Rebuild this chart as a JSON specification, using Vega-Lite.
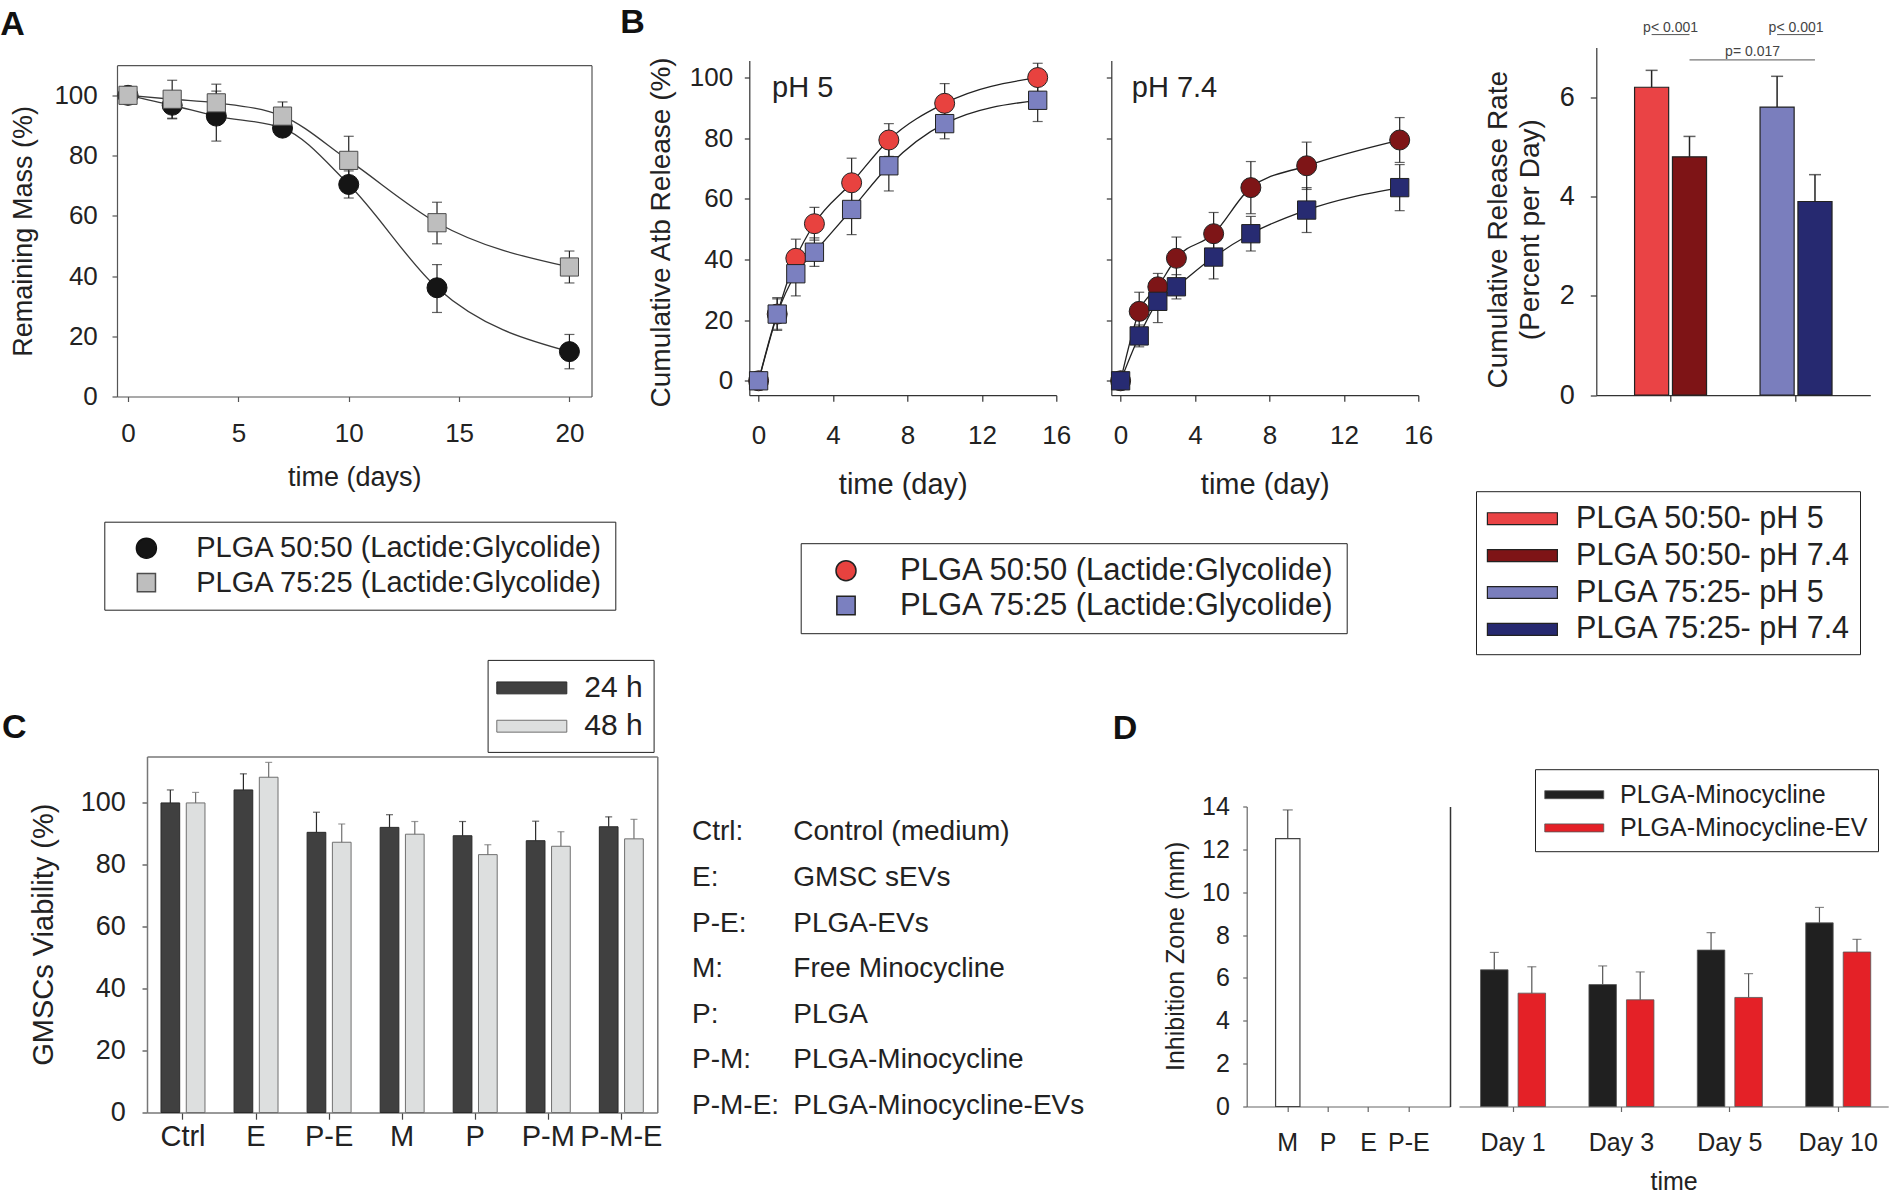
{
"$schema": "https://vega.github.io/schema/vega-lite/v6.json",
"background": "white",
"padding": {"left": 0, "top": 5.5, "right": 0, "bottom": 0},
"config": {
  "view": {"stroke": null},
  "font": "Liberation Sans",
  "text": {"font": "Liberation Sans"},
  "axis": {"grid": false, "labelFlush": false, "labelOverlap": false, "domainColor": "#333", "tickColor": "#333", "labelColor": "#222", "titleColor": "#222", "titleFontWeight": "normal", "labelFont": "Liberation Sans", "titleFont": "Liberation Sans", "domainWidth": 1.2, "tickWidth": 1.2},
  "legend": {"labelFont": "Liberation Sans", "labelColor": "#222", "labelLimit": 1000, "titleFont": "Liberation Sans"},
  "title": {"anchor": "start", "frame": "group", "baseline": "alphabetic", "fontWeight": "bold", "font": "Liberation Sans", "color": "#111"}
},
"datasets": {
  "massA": [
    {"s":"PLGA 50:50 (Lactide:Glycolide)","t":0,"m":100},
    {"s":"PLGA 50:50 (Lactide:Glycolide)","t":2,"m":96.7,"lo":92.2,"hi":101.2},
    {"s":"PLGA 50:50 (Lactide:Glycolide)","t":4,"m":93.1,"lo":84.8,"hi":101.4},
    {"s":"PLGA 50:50 (Lactide:Glycolide)","t":7,"m":89.1},
    {"s":"PLGA 50:50 (Lactide:Glycolide)","t":10,"m":70.4,"lo":65.9,"hi":74.9},
    {"s":"PLGA 50:50 (Lactide:Glycolide)","t":14,"m":36.1,"lo":27.9,"hi":43.8},
    {"s":"PLGA 50:50 (Lactide:Glycolide)","t":20,"m":14.9,"lo":9.2,"hi":20.6},
    {"s":"PLGA 75:25 (Lactide:Glycolide)","t":0,"m":100},
    {"s":"PLGA 75:25 (Lactide:Glycolide)","t":2,"m":98.7,"lo":92.4,"hi":105},
    {"s":"PLGA 75:25 (Lactide:Glycolide)","t":4,"m":97.5,"lo":91.3,"hi":103.7},
    {"s":"PLGA 75:25 (Lactide:Glycolide)","t":7,"m":93.1,"lo":88.4,"hi":97.8},
    {"s":"PLGA 75:25 (Lactide:Glycolide)","t":10,"m":78.4,"lo":70.4,"hi":86.4},
    {"s":"PLGA 75:25 (Lactide:Glycolide)","t":14,"m":57.7,"lo":50.7,"hi":64.5},
    {"s":"PLGA 75:25 (Lactide:Glycolide)","t":20,"m":43,"lo":37.7,"hi":48.3}
  ],
  "relB": [
    {"ph":"pH 5","s":"PLGA 50:50 (Lactide:Glycolide)","t":0,"r":0},
    {"ph":"pH 5","s":"PLGA 50:50 (Lactide:Glycolide)","t":1,"r":22,"lo":17,"hi":27},
    {"ph":"pH 5","s":"PLGA 50:50 (Lactide:Glycolide)","t":2,"r":40.4,"lo":34.1,"hi":46.7},
    {"ph":"pH 5","s":"PLGA 50:50 (Lactide:Glycolide)","t":3,"r":51.8,"lo":46.4,"hi":57.2},
    {"ph":"pH 5","s":"PLGA 50:50 (Lactide:Glycolide)","t":5,"r":65.3,"lo":57.2,"hi":73.4},
    {"ph":"pH 5","s":"PLGA 50:50 (Lactide:Glycolide)","t":7,"r":79.4,"lo":74,"hi":84.8},
    {"ph":"pH 5","s":"PLGA 50:50 (Lactide:Glycolide)","t":10,"r":91.5,"lo":85,"hi":98},
    {"ph":"pH 5","s":"PLGA 50:50 (Lactide:Glycolide)","t":15,"r":100,"lo":95.3,"hi":104.7},
    {"ph":"pH 5","s":"PLGA 75:25 (Lactide:Glycolide)","t":0,"r":0},
    {"ph":"pH 5","s":"PLGA 75:25 (Lactide:Glycolide)","t":1,"r":22,"lo":16.6,"hi":27.4},
    {"ph":"pH 5","s":"PLGA 75:25 (Lactide:Glycolide)","t":2,"r":35.3,"lo":28,"hi":42.6},
    {"ph":"pH 5","s":"PLGA 75:25 (Lactide:Glycolide)","t":3,"r":42.4,"lo":37.7,"hi":47.1},
    {"ph":"pH 5","s":"PLGA 75:25 (Lactide:Glycolide)","t":5,"r":56.5,"lo":48.2,"hi":64.8},
    {"ph":"pH 5","s":"PLGA 75:25 (Lactide:Glycolide)","t":7,"r":70.9,"lo":62.6,"hi":79.2},
    {"ph":"pH 5","s":"PLGA 75:25 (Lactide:Glycolide)","t":10,"r":84.8,"lo":79.8,"hi":89.8},
    {"ph":"pH 5","s":"PLGA 75:25 (Lactide:Glycolide)","t":15,"r":92.5,"lo":85.5,"hi":99.5},
    {"ph":"pH 7.4","s":"PLGA 50:50 (Lactide:Glycolide)","t":0,"r":0},
    {"ph":"pH 7.4","s":"PLGA 50:50 (Lactide:Glycolide)","t":1,"r":22.9,"lo":16.6,"hi":29.2},
    {"ph":"pH 7.4","s":"PLGA 50:50 (Lactide:Glycolide)","t":2,"r":31,"lo":26.6,"hi":35.4},
    {"ph":"pH 7.4","s":"PLGA 50:50 (Lactide:Glycolide)","t":3,"r":40.4,"lo":33.4,"hi":47.4},
    {"ph":"pH 7.4","s":"PLGA 50:50 (Lactide:Glycolide)","t":5,"r":48.5,"lo":41.5,"hi":55.5},
    {"ph":"pH 7.4","s":"PLGA 50:50 (Lactide:Glycolide)","t":7,"r":63.7,"lo":55.1,"hi":72.3},
    {"ph":"pH 7.4","s":"PLGA 50:50 (Lactide:Glycolide)","t":10,"r":70.9,"lo":63.1,"hi":78.7},
    {"ph":"pH 7.4","s":"PLGA 50:50 (Lactide:Glycolide)","t":15,"r":79.4,"lo":72,"hi":86.8},
    {"ph":"pH 7.4","s":"PLGA 75:25 (Lactide:Glycolide)","t":0,"r":0},
    {"ph":"pH 7.4","s":"PLGA 75:25 (Lactide:Glycolide)","t":1,"r":14.8,"lo":11.2,"hi":18.4},
    {"ph":"pH 7.4","s":"PLGA 75:25 (Lactide:Glycolide)","t":2,"r":26.2,"lo":19.2,"hi":33.2},
    {"ph":"pH 7.4","s":"PLGA 75:25 (Lactide:Glycolide)","t":3,"r":31,"lo":27,"hi":35},
    {"ph":"pH 7.4","s":"PLGA 75:25 (Lactide:Glycolide)","t":5,"r":40.8,"lo":33.6,"hi":48},
    {"ph":"pH 7.4","s":"PLGA 75:25 (Lactide:Glycolide)","t":7,"r":48.5,"lo":42.8,"hi":54.2},
    {"ph":"pH 7.4","s":"PLGA 75:25 (Lactide:Glycolide)","t":10,"r":56.3,"lo":48.9,"hi":63.7},
    {"ph":"pH 7.4","s":"PLGA 75:25 (Lactide:Glycolide)","t":15,"r":63.7,"lo":56.1,"hi":71.3}
  ],
  "phLab": [{"ph":"pH 5","lab":"pH 5"},{"ph":"pH 7.4","lab":"pH 7.4"}],
  "rateB": [
    {"grp":"PLGA 50:50","ph":"pH 5","lab":"PLGA 50:50- pH 5","v":6.2,"hi":6.54},
    {"grp":"PLGA 50:50","ph":"pH 7.4","lab":"PLGA 50:50- pH 7.4","v":4.8,"hi":5.21},
    {"grp":"PLGA 75:25","ph":"pH 5","lab":"PLGA 75:25- pH 5","v":5.8,"hi":6.42},
    {"grp":"PLGA 75:25","ph":"pH 7.4","lab":"PLGA 75:25- pH 7.4","v":3.9,"hi":4.44}
  ],
  "annB": [
    {"id":"a","grp":"PLGA 50:50","ph":"pH 5","lvl":7.26},
    {"id":"a","grp":"PLGA 50:50","ph":"pH 7.4","lvl":7.26},
    {"id":"b","grp":"PLGA 75:25","ph":"pH 5","lvl":7.26},
    {"id":"b","grp":"PLGA 75:25","ph":"pH 7.4","lvl":7.26},
    {"id":"c","grp":"PLGA 50:50","ph":"pH 7.4","lvl":6.75},
    {"id":"c","grp":"PLGA 75:25","ph":"pH 7.4","lvl":6.75}
  ],
  "pTxt": [
    {"grp":"PLGA 50:50","txt":"p< 0.001","lvl":7.31},
    {"grp":"PLGA 75:25","txt":"p< 0.001","lvl":7.31}
  ],
  "pTxt2": [
    {"grp":"PLGA 75:25","txt":"p= 0.017","lvl":6.83}
  ],
  "viab": [
    {"cat":"Ctrl","time":"24 h","v":100,"hi":104.2},
    {"cat":"Ctrl","time":"48 h","v":100,"hi":103.4},
    {"cat":"E","time":"24 h","v":104.2,"hi":109.4},
    {"cat":"E","time":"48 h","v":108.3,"hi":113.1},
    {"cat":"P-E","time":"24 h","v":90.5,"hi":97},
    {"cat":"P-E","time":"48 h","v":87.3,"hi":93.2},
    {"cat":"M","time":"24 h","v":92.1,"hi":96.2},
    {"cat":"M","time":"48 h","v":89.9,"hi":94},
    {"cat":"P","time":"24 h","v":89.4,"hi":94},
    {"cat":"P","time":"48 h","v":83.3,"hi":86.5},
    {"cat":"P-M","time":"24 h","v":87.8,"hi":94.1},
    {"cat":"P-M","time":"48 h","v":86,"hi":90.7},
    {"cat":"P-M-E","time":"24 h","v":92.3,"hi":95.5},
    {"cat":"P-M-E","time":"48 h","v":88.4,"hi":94.7}
  ],
  "abbr": [
    {"i":0,"a":"Ctrl:","d":"Control (medium)"},
    {"i":1,"a":"E:","d":"GMSC sEVs"},
    {"i":2,"a":"P-E:","d":"PLGA-EVs"},
    {"i":3,"a":"M:","d":"Free Minocycline"},
    {"i":4,"a":"P:","d":"PLGA"},
    {"i":5,"a":"P-M:","d":"PLGA-Minocycline"},
    {"i":6,"a":"P-M-E:","d":"PLGA-Minocycline-EVs"}
  ],
  "inhL": [
    {"cat":"M","v":12.5,"hi":13.84}
  ],
  "inhR": [
    {"day":"Day 1","s":"PLGA-Minocycline","v":6.38,"hi":7.19},
    {"day":"Day 1","s":"PLGA-Minocycline-EV","v":5.29,"hi":6.52},
    {"day":"Day 3","s":"PLGA-Minocycline","v":5.69,"hi":6.56},
    {"day":"Day 3","s":"PLGA-Minocycline-EV","v":4.98,"hi":6.28},
    {"day":"Day 5","s":"PLGA-Minocycline","v":7.3,"hi":8.11},
    {"day":"Day 5","s":"PLGA-Minocycline-EV","v":5.09,"hi":6.2},
    {"day":"Day 10","s":"PLGA-Minocycline","v":8.57,"hi":9.29},
    {"day":"Day 10","s":"PLGA-Minocycline-EV","v":7.21,"hi":7.8}
  ]
},
"bounds": "flush",
"spacing": 632.3,
"resolve": {"scale": {"fill": "independent", "stroke": "independent", "shape": "independent", "size": "independent", "color": "independent", "xOffset": "independent"}},
"hconcat": [
  {
    "vconcat": [
      {
        "width": 474.5, "height": 349,
        "title": {"text": "A", "fontSize": 34, "dx": -116.7, "offset": 5.7},
        "data": {"name": "massA"},
        "layer": [
          {"mark": {"type": "line", "interpolate": "monotone", "color": "#3a3a3a", "strokeWidth": 1.3},
           "encoding": {
             "x": {"field": "t", "type": "quantitative", "scale": {"domain": [-0.5, 21], "nice": false, "zero": false},
                   "axis": {"values": [0,5,10,15,20], "title": "time (days)", "tickSize": 5, "labelPadding": 19, "labelFontSize": 26, "titleFontSize": 27, "titleY": 88.7, "titleBaseline": "alphabetic", "domainColor": "#555", "tickColor": "#555"}},
             "y": {"field": "m", "type": "quantitative", "scale": {"domain": [0, 110], "range": [349, 17.7], "nice": false, "zero": false},
                   "axis": {"values": [0,20,40,60,80,100], "title": "Remaining Mass (%)", "tickSize": 5, "labelPadding": 14.7, "labelFontSize": 26, "titleFontSize": 27, "titleX": -85.7, "titleY": 183.4, "titleBaseline": "alphabetic", "domainColor": "#555", "tickColor": "#555"}},
             "detail": {"field": "s", "type": "nominal"}}},
          {"mark": {"type": "rule", "color": "#222", "strokeWidth": 1.2},
           "encoding": {
             "x": {"field": "t", "type": "quantitative", "scale": {"domain": [-0.5, 21], "nice": false, "zero": false},
                   "axis": {"orient": "top", "offset": -17.7, "labels": false, "ticks": false, "title": null, "domainColor": "#555"}},
             "y": {"field": "lo", "type": "quantitative", "scale": {"domain": [0, 110], "range": [349, 17.7], "nice": false, "zero": false},
                   "axis": {"orient": "right", "labels": false, "ticks": false, "title": null, "domainColor": "#555"}},
             "y2": {"field": "hi"}}},
          {"mark": {"type": "tick", "orient": "horizontal", "size": 10, "thickness": 1.2, "color": "#222"},
           "encoding": {
             "x": {"field": "t", "type": "quantitative", "axis": null},
             "y": {"field": "hi", "type": "quantitative", "axis": null}}},
          {"mark": {"type": "tick", "orient": "horizontal", "size": 10, "thickness": 1.2, "color": "#222"},
           "encoding": {
             "x": {"field": "t", "type": "quantitative", "axis": null},
             "y": {"field": "lo", "type": "quantitative", "axis": null}}},
          {"mark": {"type": "point", "filled": true, "opacity": 1, "strokeWidth": 1},
           "encoding": {
             "x": {"field": "t", "type": "quantitative", "axis": null},
             "y": {"field": "m", "type": "quantitative", "axis": null},
             "shape": {"field": "s", "type": "nominal", "scale": {"domain": ["PLGA 50:50 (Lactide:Glycolide)", "PLGA 75:25 (Lactide:Glycolide)"], "range": ["circle", "square"]},
                       "legend": {"title": null, "orient": "none", "legendX": -12.7, "legendY": 474.2, "padding": 12, "symbolOffset": 15.6, "labelOffset": 35.3, "rowPadding": 4.4, "labelFontSize": 29, "strokeColor": "#222", "fillColor": "#ffffff"}},
             "fill": {"field": "s", "type": "nominal", "scale": {"domain": ["PLGA 50:50 (Lactide:Glycolide)", "PLGA 75:25 (Lactide:Glycolide)"], "range": ["#151515", "#BEBEBE"]},
                       "legend": {"title": null, "orient": "none", "legendX": -12.7, "legendY": 474.2, "padding": 12, "symbolOffset": 15.6, "labelOffset": 35.3, "rowPadding": 4.4, "labelFontSize": 29, "strokeColor": "#222", "fillColor": "#ffffff"}},
             "stroke": {"field": "s", "type": "nominal", "scale": {"domain": ["PLGA 50:50 (Lactide:Glycolide)", "PLGA 75:25 (Lactide:Glycolide)"], "range": ["#111111", "#4d4d4d"]},
                       "legend": {"title": null, "orient": "none", "legendX": -12.7, "legendY": 474.2, "padding": 12, "symbolOffset": 15.6, "labelOffset": 35.3, "rowPadding": 4.4, "labelFontSize": 29, "strokeColor": "#222", "fillColor": "#ffffff"}},
             "size": {"field": "s", "type": "ordinal", "scale": {"domain": ["PLGA 50:50 (Lactide:Glycolide)", "PLGA 75:25 (Lactide:Glycolide)"], "range": [400, 330]},
                       "legend": {"title": null, "orient": "none", "legendX": -12.7, "legendY": 474.2, "padding": 12, "symbolOffset": 15.6, "labelOffset": 35.3, "rowPadding": 4.4, "labelFontSize": 29, "strokeColor": "#222", "fillColor": "#ffffff"}}}}
        ],
        "resolve": {"axis": {"x": "independent", "y": "independent"}}
      },
      {
        "width": 540.3, "height": 356,
        "title": {"text": "C", "fontSize": 34, "dx": -115, "offset": -85.8},
        "data": {"name": "viab"},
        "layer": [
          {"mark": {"type": "bar", "strokeWidth": 1},
           "encoding": {
             "x": {"field": "cat", "type": "nominal", "scale": {"domain": ["Ctrl","E","P-E","M","P","P-M","P-M-E"], "range": [30, 540.3], "paddingInner": 0.398, "paddingOuter": 0.1915},
                   "axis": {"title": null, "labelAngle": 0, "tickSize": 6.7, "labelPadding": 3, "labelFontSize": 29, "domainColor": "#777", "domainWidth": 1.5, "tickColor": "#444"}},
             "xOffset": {"field": "time", "type": "nominal", "scale": {"domain": ["24 h","48 h"], "paddingInner": 0.26, "paddingOuter": 0}},
             "y": {"field": "v", "type": "quantitative", "scale": {"domain": [0, 115], "nice": false},
                   "axis": {"values": [0,20,40,60,80,100], "offset": -30, "tickSize": 5, "labelPadding": 16.7, "labelFontSize": 27, "title": "GMSCs Viability (%)", "titleFontSize": 29, "titleX": -94.2, "titleY": 177.7, "titleBaseline": "alphabetic", "domainColor": "#777", "domainWidth": 1.5, "tickColor": "#444"}},
             "fill": {"field": "time", "type": "nominal", "scale": {"domain": ["24 h","48 h"], "range": ["#404040", "#DDDFDF"]},
                      "legend": {"title": null, "orient": "none", "legendX": 370.6, "legendY": -96.6, "padding": 10, "symbolType": "M-2,-0.34H2V0.34H-2Z", "symbolSize": 1225, "symbolOffset": 16.2, "symbolStrokeWidth": 1, "labelOffset": 34.5, "rowPadding": 5.3, "labelFontSize": 30, "strokeColor": "#222", "fillColor": "#ffffff"}},
             "stroke": {"field": "time", "type": "nominal", "scale": {"domain": ["24 h","48 h"], "range": ["#2a2a2a", "#707070"]},
                      "legend": {"title": null, "orient": "none", "legendX": 370.6, "legendY": -96.6, "padding": 10, "symbolType": "M-2,-0.34H2V0.34H-2Z", "symbolSize": 1225, "symbolOffset": 16.2, "symbolStrokeWidth": 1, "labelOffset": 34.5, "rowPadding": 5.3, "labelFontSize": 30, "strokeColor": "#222", "fillColor": "#ffffff"}}}},
          {"mark": {"type": "rule", "strokeWidth": 1.2},
           "encoding": {
             "x": {"field": "cat", "type": "nominal", "scale": {"domain": ["Ctrl","E","P-E","M","P","P-M","P-M-E"], "range": [30, 540.3], "paddingInner": 0.398, "paddingOuter": 0.1915},
                   "axis": {"orient": "top", "labels": false, "ticks": false, "title": null, "domainColor": "#777", "domainWidth": 1.5}},
             "xOffset": {"field": "time", "type": "nominal"},
             "y": {"field": "v", "type": "quantitative", "scale": {"domain": [0, 115], "nice": false},
                   "axis": {"orient": "right", "labels": false, "ticks": false, "title": null, "domainColor": "#777", "domainWidth": 1.5}},
             "y2": {"field": "hi"},
             "stroke": {"field": "time", "type": "nominal"}}},
          {"mark": {"type": "tick", "orient": "horizontal", "size": 7, "thickness": 1.2},
           "encoding": {
             "x": {"field": "cat", "type": "nominal", "axis": null},
             "xOffset": {"field": "time", "type": "nominal"},
             "y": {"field": "hi", "type": "quantitative", "axis": null},
             "color": {"field": "time", "type": "nominal", "scale": {"domain": ["24 h","48 h"], "range": ["#2a2a2a", "#707070"]}, "legend": null}}}
        ],
        "resolve": {"axis": {"x": "independent", "y": "independent"}}
      }
    ],
    "spacing": 360,
    "bounds": "flush",
    "resolve": {"scale": {"fill": "independent", "stroke": "independent", "shape": "independent", "size": "independent", "color": "independent", "xOffset": "independent"}}
  },
  {
    "vconcat": [
      {
        "hconcat": [
          {
            "width": 307, "height": 347.7,
            "title": {"text": "B", "fontSize": 34, "dx": -129, "offset": 7.3},
            "layer": [
              {"data": {"name": "relB"}, "transform": [{"filter": "datum.ph === 'pH 5'"}],
               "mark": {"type": "line", "interpolate": "monotone", "color": "#222", "strokeWidth": 1.3},
               "encoding": {
                 "x": {"field": "t", "type": "quantitative", "scale": {"domain": [-0.5, 16], "nice": false, "zero": false},
                       "axis": {"values": [0,4,8,12,16], "title": "time (day)", "tickSize": 6, "labelPadding": 21, "labelFontSize": 26, "titleFontSize": 29, "titleY": 98, "titleBaseline": "alphabetic"}},
                 "y": {"field": "r", "type": "quantitative", "scale": {"domain": [-4.75, 105.65], "range": [347.7, 12.9], "nice": false, "zero": false},
                       "axis": {"values": [0,20,40,60,80,100], "title": "Cumulative Atb Release (%)", "tickSize": 5, "labelPadding": 11.6, "labelFontSize": 26, "titleFontSize": 28, "titleX": -80.1, "titleY": 184.4, "titleBaseline": "alphabetic"}},
                 "detail": {"field": "s", "type": "nominal"}}},
              {"data": {"name": "relB"}, "transform": [{"filter": "datum.ph === 'pH 5'"}],
               "mark": {"type": "rule", "color": "#222", "strokeWidth": 1.2},
               "encoding": {
                 "x": {"field": "t", "type": "quantitative"},
                 "y": {"field": "lo", "type": "quantitative"},
                 "y2": {"field": "hi"}}},
              {"data": {"name": "relB"}, "transform": [{"filter": "datum.ph === 'pH 5'"}],
               "mark": {"type": "tick", "orient": "horizontal", "size": 10, "thickness": 1.2, "color": "#222"},
               "encoding": {
                 "x": {"field": "t", "type": "quantitative"},
                 "y": {"field": "hi", "type": "quantitative"}}},
              {"data": {"name": "relB"}, "transform": [{"filter": "datum.ph === 'pH 5'"}],
               "mark": {"type": "tick", "orient": "horizontal", "size": 10, "thickness": 1.2, "color": "#222"},
               "encoding": {
                 "x": {"field": "t", "type": "quantitative"},
                 "y": {"field": "lo", "type": "quantitative"}}},
              {"data": {"name": "relB"}, "transform": [{"filter": "datum.ph === 'pH 5'"}],
               "mark": {"type": "point", "filled": true, "opacity": 1, "stroke": "#222", "strokeWidth": 1},
               "encoding": {
                 "x": {"field": "t", "type": "quantitative"},
                 "y": {"field": "r", "type": "quantitative"},
                 "shape": {"field": "s", "type": "nominal", "scale": {"domain": ["PLGA 50:50 (Lactide:Glycolide)", "PLGA 75:25 (Lactide:Glycolide)"], "range": ["circle", "square"]},
                           "legend": {"title": null, "orient": "none", "legendX": 51.4, "legendY": 495.7, "padding": 12, "symbolOffset": 17.8, "labelOffset": 38.5, "rowPadding": 2.8, "labelFontSize": 31, "strokeColor": "#222", "fillColor": "#ffffff"}},
                 "fill": {"field": "s", "type": "nominal", "scale": {"domain": ["PLGA 50:50 (Lactide:Glycolide)", "PLGA 75:25 (Lactide:Glycolide)"], "range": ["#E8423F", "#7B80C0"]},
                           "legend": {"title": null, "orient": "none", "legendX": 51.4, "legendY": 495.7, "padding": 12, "symbolOffset": 17.8, "labelOffset": 38.5, "rowPadding": 2.8, "labelFontSize": 31, "strokeColor": "#222", "fillColor": "#ffffff"}},
                 "size": {"field": "s", "type": "ordinal", "scale": {"domain": ["PLGA 50:50 (Lactide:Glycolide)", "PLGA 75:25 (Lactide:Glycolide)"], "range": [400, 335]},
                           "legend": {"title": null, "orient": "none", "legendX": 51.4, "legendY": 495.7, "padding": 12, "symbolOffset": 17.8, "labelOffset": 38.5, "rowPadding": 2.8, "labelFontSize": 31, "strokeColor": "#222", "fillColor": "#ffffff"}}}},
              {"data": {"name": "phLab"}, "transform": [{"filter": "datum.ph === 'pH 5'"}],
               "mark": {"type": "text", "align": "left", "baseline": "alphabetic", "fontSize": 29, "color": "#222"},
               "encoding": {
                 "x": {"datum": 0.72, "type": "quantitative"},
                 "y": {"datum": 93.5, "type": "quantitative"},
                 "text": {"field": "lab", "type": "nominal"}}}
            ]
          },
          {
            "hconcat": [
              {
                "width": 307, "height": 347.7,
                "layer": [
                  {"data": {"name": "relB"}, "transform": [{"filter": "datum.ph === 'pH 7.4'"}],
                   "mark": {"type": "line", "interpolate": "monotone", "color": "#222", "strokeWidth": 1.3},
                   "encoding": {
                     "x": {"field": "t", "type": "quantitative", "scale": {"domain": [-0.5, 16], "nice": false, "zero": false},
                           "axis": {"values": [0,4,8,12,16], "title": "time (day)", "tickSize": 6, "labelPadding": 21, "labelFontSize": 26, "titleFontSize": 29, "titleY": 98, "titleBaseline": "alphabetic"}},
                     "y": {"field": "r", "type": "quantitative", "scale": {"domain": [-4.75, 105.65], "range": [347.7, 12.9], "nice": false, "zero": false},
                           "axis": {"values": [0,20,40,60,80,100], "title": null, "tickSize": 5, "labels": false}},
                     "detail": {"field": "s", "type": "nominal"}}},
                  {"data": {"name": "relB"}, "transform": [{"filter": "datum.ph === 'pH 7.4'"}],
                   "mark": {"type": "rule", "color": "#222", "strokeWidth": 1.2},
                   "encoding": {
                     "x": {"field": "t", "type": "quantitative"},
                     "y": {"field": "lo", "type": "quantitative"},
                     "y2": {"field": "hi"}}},
                  {"data": {"name": "relB"}, "transform": [{"filter": "datum.ph === 'pH 7.4'"}],
                   "mark": {"type": "tick", "orient": "horizontal", "size": 10, "thickness": 1.2, "color": "#222"},
                   "encoding": {
                     "x": {"field": "t", "type": "quantitative"},
                     "y": {"field": "hi", "type": "quantitative"}}},
                  {"data": {"name": "relB"}, "transform": [{"filter": "datum.ph === 'pH 7.4'"}],
                   "mark": {"type": "tick", "orient": "horizontal", "size": 10, "thickness": 1.2, "color": "#222"},
                   "encoding": {
                     "x": {"field": "t", "type": "quantitative"},
                     "y": {"field": "lo", "type": "quantitative"}}},
                  {"data": {"name": "relB"}, "transform": [{"filter": "datum.ph === 'pH 7.4'"}],
                   "mark": {"type": "point", "filled": true, "opacity": 1, "stroke": "#222", "strokeWidth": 1},
                   "encoding": {
                     "x": {"field": "t", "type": "quantitative"},
                     "y": {"field": "r", "type": "quantitative"},
                     "shape": {"field": "s", "type": "nominal", "scale": {"domain": ["PLGA 50:50 (Lactide:Glycolide)", "PLGA 75:25 (Lactide:Glycolide)"], "range": ["circle", "square"]}, "legend": null},
                     "fill": {"field": "s", "type": "nominal", "scale": {"domain": ["PLGA 50:50 (Lactide:Glycolide)", "PLGA 75:25 (Lactide:Glycolide)"], "range": ["#7E1517", "#272B72"]}, "legend": null},
                     "size": {"field": "s", "type": "ordinal", "scale": {"domain": ["PLGA 50:50 (Lactide:Glycolide)", "PLGA 75:25 (Lactide:Glycolide)"], "range": [400, 335]}, "legend": null}}},
                  {"data": {"name": "phLab"}, "transform": [{"filter": "datum.ph === 'pH 7.4'"}],
                   "mark": {"type": "text", "align": "left", "baseline": "alphabetic", "fontSize": 29, "color": "#222"},
                   "encoding": {
                     "x": {"datum": 0.6, "type": "quantitative"},
                     "y": {"datum": 93.5, "type": "quantitative"},
                     "text": {"field": "lab", "type": "nominal"}}}
                ]
              },
              {
                "width": 274, "height": 347.7,
                "layer": [
                  {"data": {"name": "rateB"},
                   "mark": {"type": "bar", "stroke": "#222", "strokeWidth": 1.2},
                   "encoding": {
                     "x": {"field": "grp", "type": "nominal", "scale": {"domain": ["PLGA 50:50", "PLGA 75:25"], "paddingInner": 0.4264, "paddingOuter": 0.305},
                           "axis": {"labels": false, "title": null, "tickSize": 6}},
                     "xOffset": {"field": "ph", "type": "nominal", "scale": {"domain": ["pH 5", "pH 7.4"], "paddingInner": 0.1, "paddingOuter": 0}},
                     "y": {"field": "v", "type": "quantitative", "scale": {"domain": [0, 7], "nice": false},
                           "axis": {"values": [0,2,4,6], "tickSize": 6, "labelPadding": 16, "labelFontSize": 27, "title": ["Cumulative Release Rate", "(Percent per Day)"], "titleFontSize": 28, "titleX": -90.2, "titleY": 181.7, "titleBaseline": "alphabetic", "titleLineHeight": 32.5}},
                     "fill": {"field": "lab", "type": "nominal", "scale": {"domain": ["PLGA 50:50- pH 5", "PLGA 50:50- pH 7.4", "PLGA 75:25- pH 5", "PLGA 75:25- pH 7.4"], "range": ["#EA4345", "#7E1416", "#7A7EBD", "#262970"]},
                              "legend": {"title": null, "orient": "none", "legendX": -120.3, "legendY": 443.7, "padding": 9, "symbolType": "M-2,-0.34H2V0.34H-2Z", "symbolSize": 1225, "symbolOffset": 18.9, "symbolStrokeColor": "#222", "symbolStrokeWidth": 1.2, "labelOffset": 35.2, "rowPadding": 2.9, "labelFontSize": 30.5, "strokeColor": "#222", "fillColor": "#ffffff"}}}},
                  {"data": {"name": "rateB"},
                   "mark": {"type": "rule", "color": "#222", "strokeWidth": 1.5},
                   "encoding": {
                     "x": {"field": "grp", "type": "nominal"},
                     "xOffset": {"field": "ph", "type": "nominal"},
                     "y": {"field": "v", "type": "quantitative"},
                     "y2": {"field": "hi"}}},
                  {"data": {"name": "rateB"},
                   "mark": {"type": "tick", "orient": "horizontal", "size": 12, "thickness": 1.5, "color": "#222"},
                   "encoding": {
                     "x": {"field": "grp", "type": "nominal"},
                     "xOffset": {"field": "ph", "type": "nominal"},
                     "y": {"field": "hi", "type": "quantitative"}}},
                  {"data": {"name": "annB"},
                   "mark": {"type": "line", "color": "#555", "strokeWidth": 1},
                   "encoding": {
                     "x": {"field": "grp", "type": "nominal"},
                     "xOffset": {"field": "ph", "type": "nominal"},
                     "y": {"field": "lvl", "type": "quantitative"},
                     "detail": {"field": "id", "type": "nominal"}}},
                  {"data": {"name": "pTxt"},
                   "mark": {"type": "text", "align": "center", "baseline": "alphabetic", "fontSize": 14, "color": "#444"},
                   "encoding": {
                     "x": {"field": "grp", "type": "nominal"},
                     "y": {"field": "lvl", "type": "quantitative"},
                     "text": {"field": "txt", "type": "nominal"}}},
                  {"data": {"name": "pTxt2"},
                   "mark": {"type": "text", "align": "center", "baseline": "alphabetic", "fontSize": 14, "color": "#444", "dx": -43.5},
                   "encoding": {
                     "x": {"field": "grp", "type": "nominal"},
                     "y": {"field": "lvl", "type": "quantitative"},
                     "text": {"field": "txt", "type": "nominal"}}}
                ]
              }
            ],
            "spacing": 178,
            "bounds": "flush",
            "resolve": {"scale": {"fill": "independent", "stroke": "independent", "shape": "independent", "size": "independent", "color": "independent", "xOffset": "independent"}}
          }
        ],
        "spacing": 55,
        "bounds": "flush",
        "resolve": {"scale": {"fill": "independent", "stroke": "independent", "shape": "independent", "size": "independent", "color": "independent", "xOffset": "independent"}}
      },
      {
        "hconcat": [
          {
            "width": 101.3, "height": 300,
            "data": {"name": "abbr"},
            "transform": [{"fold": ["a", "d"], "as": ["key", "val"]}],
            "mark": {"type": "text", "align": "left", "baseline": "middle", "fontSize": 28, "dx": -57.3, "color": "#222"},
            "encoding": {
              "x": {"field": "key", "type": "nominal", "scale": {"type": "point", "domain": ["a", "d"], "padding": 0}, "axis": null},
              "y": {"field": "i", "type": "ordinal", "scale": {"type": "point", "padding": 0.2916, "align": 0.977}, "axis": null},
              "text": {"field": "val", "type": "nominal"}
            }
          },
          {
            "hconcat": [
              {
                "width": 203.3, "height": 300,
                "title": {"text": "D", "fontSize": 34, "dx": -134, "offset": 48.8},
                "data": {"name": "inhL"},
                "layer": [
                  {"mark": {"type": "bar", "fill": "#ffffff", "stroke": "#444", "strokeWidth": 1.2},
                   "encoding": {
                     "x": {"field": "cat", "type": "nominal", "scale": {"domain": ["M","P","E","P-E"], "paddingInner": 0.397, "paddingOuter": 0.715},
                           "axis": {"title": null, "labelAngle": 0, "tickSize": 5, "labelPadding": 18.7, "labelFontSize": 25, "domainColor": "#666", "tickColor": "#666"}},
                     "y": {"field": "v", "type": "quantitative", "scale": {"domain": [0, 14], "nice": false},
                           "axis": {"values": [0,2,4,6,8,10,12,14], "tickSize": 4, "labelPadding": 13.4, "labelFontSize": 25, "title": "Inhibition Zone (mm)", "titleFontSize": 25, "titleX": -62.8, "titleY": 149.4, "titleBaseline": "alphabetic", "domainColor": "#666", "tickColor": "#666"}}}},
                  {"mark": {"type": "rule", "color": "#444", "strokeWidth": 1.2},
                   "encoding": {
                     "x": {"field": "cat", "type": "nominal", "axis": null},
                     "y": {"field": "v", "type": "quantitative", "axis": {"orient": "right", "labels": false, "ticks": false, "title": null, "domainColor": "#333", "domainWidth": 1.5}},
                     "y2": {"field": "hi"}}},
                  {"mark": {"type": "tick", "orient": "horizontal", "size": 10, "thickness": 1.2, "color": "#444"},
                   "encoding": {
                     "x": {"field": "cat", "type": "nominal", "axis": null},
                     "y": {"field": "hi", "type": "quantitative", "axis": null}}}
                ],
                "resolve": {"axis": {"x": "independent", "y": "independent"}}
              },
              {
                "width": 429.2, "height": 300,
                "data": {"name": "inhR"},
                "layer": [
                  {"mark": {"type": "bar", "stroke": "#555", "strokeWidth": 0.8},
                   "encoding": {
                     "x": {"field": "day", "type": "nominal", "scale": {"domain": ["Day 1","Day 3","Day 5","Day 10"], "paddingInner": 0.4, "paddingOuter": 0.18, "align": 0.552},
                           "axis": {"title": "time", "labelAngle": 0, "tickSize": 5, "labelPadding": 18.7, "labelFontSize": 25, "titleFontSize": 25, "titleY": 82.7, "titleBaseline": "alphabetic", "domainColor": "#666", "tickColor": "#666"}},
                     "xOffset": {"field": "s", "type": "nominal", "scale": {"domain": ["PLGA-Minocycline","PLGA-Minocycline-EV"], "paddingInner": 0.267, "paddingOuter": 0}},
                     "y": {"field": "v", "type": "quantitative", "scale": {"domain": [0, 14], "nice": false}, "axis": null},
                     "fill": {"field": "s", "type": "nominal", "scale": {"domain": ["PLGA-Minocycline","PLGA-Minocycline-EV"], "range": ["#202020", "#E42127"]},
                              "legend": {"title": null, "orient": "none", "legendX": 76, "legendY": -37.3, "padding": 10, "symbolType": "M-2,-0.271H2V0.271H-2Z", "symbolSize": 870.25, "symbolOffset": 13.75, "symbolStrokeColor": "#555", "symbolStrokeWidth": 0.8, "labelOffset": 30.25, "rowPadding": 4.2, "labelFontSize": 25, "strokeColor": "#222", "fillColor": "#ffffff"}}}},
                  {"mark": {"type": "rule", "color": "#555", "strokeWidth": 1.2},
                   "encoding": {
                     "x": {"field": "day", "type": "nominal"},
                     "xOffset": {"field": "s", "type": "nominal"},
                     "y": {"field": "v", "type": "quantitative", "axis": null},
                     "y2": {"field": "hi"}}},
                  {"mark": {"type": "tick", "orient": "horizontal", "size": 9, "thickness": 1.2, "color": "#555"},
                   "encoding": {
                     "x": {"field": "day", "type": "nominal"},
                     "xOffset": {"field": "s", "type": "nominal"},
                     "y": {"field": "hi", "type": "quantitative", "axis": null}}}
                ]
              }
            ],
            "spacing": 8.3,
            "bounds": "flush",
            "resolve": {"scale": {"fill": "independent", "stroke": "independent", "shape": "independent", "size": "independent", "color": "independent", "xOffset": "independent"}}
          }
        ],
        "spacing": 395.4,
        "bounds": "flush",
        "resolve": {"scale": {"fill": "independent", "stroke": "independent", "shape": "independent", "size": "independent", "color": "independent", "xOffset": "independent"}}
      }
    ],
    "spacing": 759,
    "bounds": "flush",
    "resolve": {"scale": {"fill": "independent", "stroke": "independent", "shape": "independent", "size": "independent", "color": "independent", "xOffset": "independent"}}
  }
]
}
